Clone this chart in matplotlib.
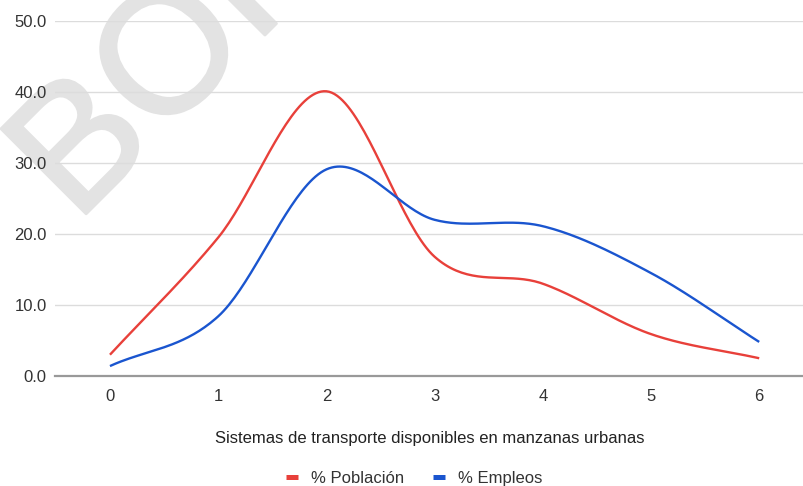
import numpy as np
import matplotlib
matplotlib.use("Agg")
import matplotlib.pyplot as plt
import matplotlib.patheffects as pe

categories = [0, 1, 2, 3, 4, 5, 6]
poblacion = [3.0, 19.5, 40.1, 16.8, 13.0, 5.9, 2.5]
empleos = [1.4, 8.4, 29.1, 22.0, 21.1, 14.5, 4.8]
yticks = [0, 10, 20, 30, 40, 50]
xlabel = "Sistemas de transporte disponibles en manzanas urbanas"
series_names = ["% Población", "% Empleos"]

plt.rcParams['font.family'] = ['Liberation Sans', 'DejaVu Sans']


def smooth(x, y, n=40):
    x = np.asarray(x, float)
    y = np.asarray(y, float)
    m = np.zeros_like(y)
    m[1:-1] = (y[2:] - y[:-2]) / (x[2:] - x[:-2])
    m[0] = (y[1] - y[0]) / (x[1] - x[0])
    m[-1] = (y[-1] - y[-2]) / (x[-1] - x[-2])
    xs, ys = [], []
    for i in range(len(x) - 1):
        h = x[i + 1] - x[i]
        t = np.linspace(0, 1, n, endpoint=(i == len(x) - 2))
        h00 = 2 * t**3 - 3 * t**2 + 1
        h10 = t**3 - 2 * t**2 + t
        h01 = -2 * t**3 + 3 * t**2
        h11 = t**3 - t**2
        xs.append(x[i] + t * h)
        ys.append(h00 * y[i] + h10 * h * m[i] + h01 * y[i + 1] + h11 * h * m[i + 1])
    return np.concatenate(xs), np.concatenate(ys)


fig = plt.figure(figsize=(8.04, 4.86), dpi=100)
fig.patch.set_facecolor("white")

# watermark
wm_color = "#e3e3e3"
fig.text(76 / 804, 1 - 224 / 486, "BORRADOR", fontsize=126, color=wm_color,
         rotation=45, rotation_mode="anchor",
         ha="left", va="baseline", zorder=0,
         path_effects=[pe.withStroke(linewidth=2.0, foreground=wm_color)])

ax = fig.add_axes([55 / 804, 110 / 486, 1 - 55 / 804, (376 - 21) / 486])
ax.set_zorder(1)
ax.patch.set_alpha(0)

colors = ["#e8403a", "#1a55cf"]
for vals, c, name in zip([poblacion, empleos], colors, series_names):
    xs, ys = smooth(categories, vals)
    ax.plot(xs, ys, color=c, lw=1.7, label=name, solid_capstyle="butt")

ax.set_xlim(-0.508, 6.414)
ax.set_ylim(0, 50)
ax.set_yticks(yticks)
ax.set_yticklabels([f"{v:.1f}" for v in yticks])
ax.set_xticks(categories)
ax.set_xticklabels([str(c) for c in categories])
ax.grid(axis="y", color="#dcdcdc", lw=1)
ax.set_axisbelow(True)
for s in ["top", "right", "left"]:
    ax.spines[s].set_visible(False)
ax.spines["bottom"].set_color("#999999")
ax.spines["bottom"].set_linewidth(1.6)
ax.tick_params(axis="both", length=0, labelsize=12, colors="#333333")
ax.tick_params(axis="y", pad=6)
ax.tick_params(axis="x", pad=9)
ax.set_xlabel(xlabel, fontsize=12, color="#222222", va="center")
ax.xaxis.set_label_coords((430 - 55) / (804 - 55), (376 - 438) / 355)

leg = fig.legend(loc="center", bbox_to_anchor=(414 / 804, 1 - 478 / 486), ncol=2,
                 frameon=False, fontsize=12, handlelength=0.72, handletextpad=0.8,
                 columnspacing=1.7, borderaxespad=0, borderpad=0)
for h in leg.get_lines():
    h.set_linewidth(3.6)
    h.set_solid_capstyle("butt")
for t in leg.get_texts():
    t.set_color("#333333")

fig.savefig("out.png", dpi=100, facecolor="white")
